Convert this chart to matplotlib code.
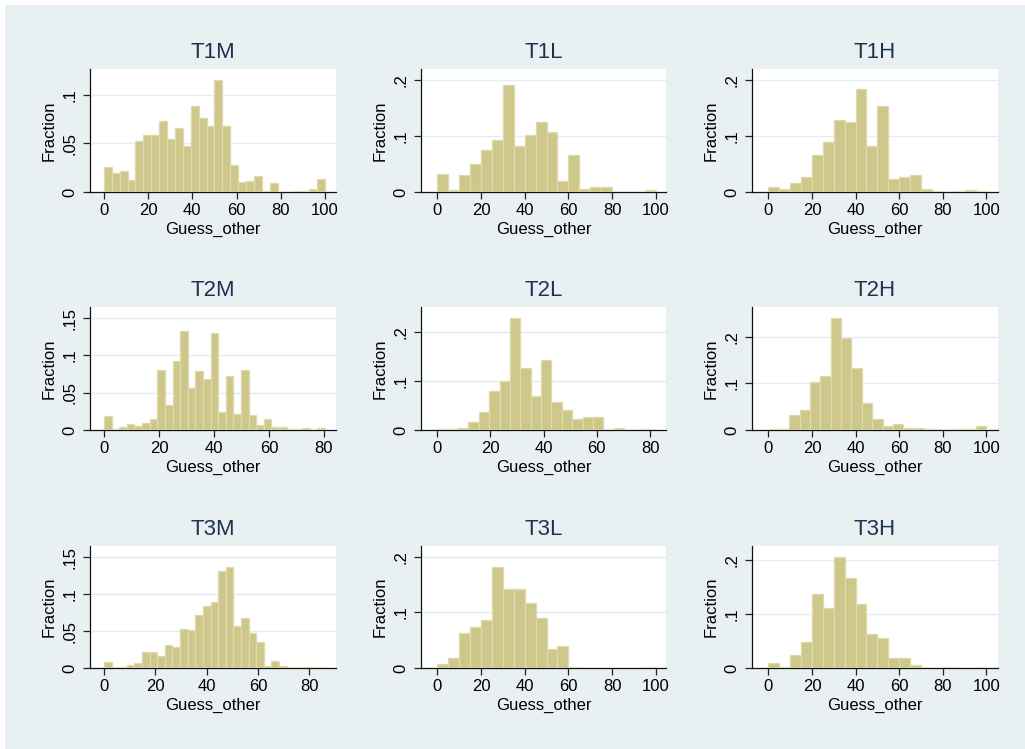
import numpy as np
import matplotlib
matplotlib.use("Agg")
import matplotlib.pyplot as plt

plt.rcParams['font.family'] = ['Liberation Sans', 'DejaVu Sans']

# ---- data: (range low, range high, bar fractions) ----
titles = ["T1M", "T1L", "T1H", "T2M", "T2L", "T2H", "T3M", "T3L", "T3H"]

t1m_range = (0, 100)
t1m = [0.026, 0.0196, 0.0216, 0.0124, 0.0526, 0.059, 0.059, 0.073, 0.0546, 0.0656,
       0.047, 0.0887, 0.076, 0.068, 0.115, 0.068, 0.0275, 0.0103, 0.0113, 0.016,
       0.0014, 0.0093, 0.0, 0.0, 0.0014, 0.0014, 0.003, 0.0134]

t1l_range = (0, 100)
t1l = [0.032, 0.003, 0.030, 0.050, 0.075, 0.0925, 0.191, 0.082, 0.1015, 0.125,
       0.107, 0.019, 0.067, 0.005, 0.0095, 0.0095, 0.0, 0.0, 0.0, 0.003]

t1h_range = (0, 100)
t1h = [0.0096, 0.006, 0.016, 0.026, 0.066, 0.089, 0.128, 0.126, 0.184, 0.083,
       0.153, 0.023, 0.026, 0.031, 0.006, 0.0024, 0.0, 0.0024, 0.0036, 0.0024]

t2m_range = (0, 80.3)
t2m = [0.0193, 0.0013, 0.0036, 0.0085, 0.006, 0.0099, 0.0144, 0.080, 0.0337, 0.092,
       0.1325, 0.057, 0.079, 0.068, 0.130, 0.0247, 0.072, 0.022, 0.081, 0.0207,
       0.0072, 0.0144, 0.0036, 0.0036, 0.0013, 0.0013, 0.0022, 0.0, 0.0022]

t2l_range = (0, 82)
t2l = [0.0014, 0.0014, 0.004, 0.0165, 0.036, 0.079, 0.100, 0.229, 0.128, 0.069,
       0.143, 0.057, 0.041, 0.022, 0.026, 0.026, 0.0, 0.005, 0.0, 0.0, 0.002]

t2h_range = (0, 100)
t2h = [0.002, 0.002, 0.032, 0.0425, 0.104, 0.115, 0.240, 0.198, 0.133, 0.057,
       0.023, 0.008, 0.0125, 0.004, 0.004, 0.002, 0.0, 0.0, 0.002, 0.002, 0.008]

t3m_range = (0, 86)
t3m = [0.008, 0.001, 0.002, 0.0045, 0.0072, 0.021, 0.022, 0.0166, 0.0314, 0.0287,
       0.053, 0.0516, 0.072, 0.084, 0.089, 0.131, 0.136, 0.057, 0.068, 0.048,
       0.035, 0.003, 0.009, 0.003, 0.001, 0.001, 0.0018, 0.001, 0.001]

t3l_range = (0, 100)
t3l = [0.007, 0.018, 0.062, 0.073, 0.087, 0.182, 0.142, 0.142, 0.116, 0.089,
       0.034, 0.039, 0.002, 0.0, 0.0, 0.0, 0.0, 0.0, 0.0, 0.002]

t3h_range = (0, 100)
t3h = [0.009, 0.002, 0.024, 0.049, 0.138, 0.112, 0.206, 0.168, 0.119, 0.064,
       0.055, 0.019, 0.018, 0.005, 0.0, 0.0, 0.002, 0.0, 0.0, 0.002]

series = [(t1m_range, t1m), (t1l_range, t1l), (t1h_range, t1h),
          (t2m_range, t2m), (t2l_range, t2l), (t2h_range, t2h),
          (t3m_range, t3m), (t3l_range, t3l), (t3h_range, t3h)]

xticks_100 = [0, 20, 40, 60, 80, 100]
xticks_80 = [0, 20, 40, 60, 80]
yt_a = [0, 0.05, 0.1]
yt_b = [0, 0.05, 0.1, 0.15]
yt_c = [0, 0.1, 0.2]
yticks = [yt_a, yt_c, yt_c, yt_b, yt_c, yt_c, yt_b, yt_c, yt_c]
xticks = [xticks_100, xticks_100, xticks_100, xticks_80, xticks_80, xticks_100,
          xticks_80, xticks_100, xticks_100]

# ---- layout (pixels) ----
W, H = 1025, 749
cols = [(90, 336), (421, 666), (752, 998)]
rows = [(69, 192), (307, 430), (546, 668)]
xlims = [(-6.3, 105.0), (-7.5, 104.7), (-7.5, 105.3),
         (-5.1, 84.4), (-6.1, 86.0), (-7.5, 105.3),
         (-5.45, 90.4), (-7.5, 104.7), (-7.5, 105.3)]
ylims = [0.1268, 0.220, 0.220, 0.165, 0.252, 0.264, 0.165, 0.219, 0.2266]

BG = '#E8F0F2'
BAR = '#CEC78C'
EDGE = '#DEDAAA'
TITLE_C = '#1E3250'

def fmt(v):
    if v == 0:
        return "0"
    s = ("%g" % v)
    return s.lstrip("0")

fig = plt.figure(figsize=(W / 100, H / 100), dpi=100)
fig.patch.set_facecolor('white')
fig.patches.append(plt.Rectangle((5 / W, 0), 1 - 5 / W, 1 - 5 / H,
                                 transform=fig.transFigure, facecolor=BG,
                                 edgecolor='none', zorder=-10))

for i in range(9):
    r, c = divmod(i, 3)
    x0, x1 = cols[c]
    y0, y1 = rows[r]
    ax = fig.add_axes([x0 / W, 1 - y1 / H, (x1 - x0) / W, (y1 - y0) / H])
    ax.set_facecolor('white')
    (lo, hi), vals = series[i]
    n = len(vals)
    edges = np.linspace(lo, hi, n + 1)
    ax.bar(edges[:-1], vals, width=np.diff(edges), align='edge',
           color=BAR, edgecolor=EDGE, linewidth=0.9, zorder=3)
    ax.set_xlim(*xlims[i])
    ax.set_ylim(0, ylims[i])
    for yv in yticks[i][1:]:
        ax.axhline(yv, color='#E3ECEE', linewidth=1.0, zorder=1)
    ax.set_yticks(yticks[i])
    ax.set_yticklabels([fmt(v) for v in yticks[i]], rotation=90, va='center')
    ax.set_xticks(xticks[i])
    ax.tick_params(axis='both', labelsize=12, length=5, width=0.9,
                   color='#222222', direction='out')
    ax.tick_params(axis='y', pad=4)
    ax.tick_params(axis='x', pad=3)
    for s in ['top', 'right']:
        ax.spines[s].set_visible(False)
    for s in ['left', 'bottom']:
        ax.spines[s].set_color('#111111')
        ax.spines[s].set_linewidth(0.9)
    ax.set_xlabel("Guess_other", fontsize=12, labelpad=3)
    ax.set_ylabel("Fraction", fontsize=12, labelpad=4)
    ax.set_title(titles[i], fontsize=16, color=TITLE_C, pad=8)

fig.savefig("out.png", dpi=100, facecolor=fig.get_facecolor())
